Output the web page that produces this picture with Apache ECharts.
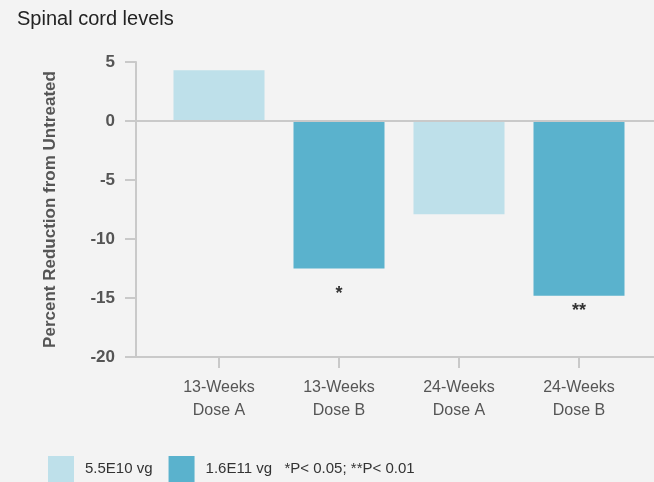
<!DOCTYPE html>
<html>
<head>
<meta charset="utf-8">
<script src="https://cdn.jsdelivr.net/npm/echarts@6/dist/echarts.min.js"></script>
<style>
  html, body { margin: 0; padding: 0; background: #f3f3f3; }
  #chart { width: 654px; height: 482px; }
</style>
</head>
<body>
<div id="chart"></div>
<script>
  // categories on the x axis
  var categories = ['13-Weeks\nDose A', '13-Weeks\nDose B', '24-Weeks\nDose A', '24-Weeks\nDose B'];
  // percent reduction, one array per dose (null where the other dose is drawn)
  var lowDose = [4.3, null, -7.9, null];
  var highDose = [null, -12.5, null, -14.8];
  // significance marks under the bars
  var marks = ['', '*', '', '**'];
  var seriesNames = ['5.5E10 vg', '1.6E11 vg'];
  var pNote = '*P< 0.05; **P< 0.01';
  var yMin = -20, yMax = 5, yStep = 5;

  var lightBlue = '#bee0ea';
  var darkBlue = '#5ab2cd';
  var axisGray = '#c9c9c9';
  var font = '"Liberation Sans", Arial, sans-serif';

  // distance of the mark below each bar end
  var markGap = [0, 17, 0, 6];

  var chart = echarts.init(document.getElementById('chart'));

  chart.setOption({
    backgroundColor: '#f3f3f3',
    animation: false,
    title: {
      text: 'Spinal cord levels',
      left: 17,
      top: 9,
      padding: 0,
      textStyle: { fontFamily: font, fontSize: 20, fontWeight: 'normal', color: '#222' }
    },
    legend: {
      left: 48,
      top: 456,
      padding: 0,
      itemWidth: 26,
      itemHeight: 26,
      itemGap: 16,
      icon: 'rect',
      data: seriesNames,
      formatter: function (name) {
        return name === seriesNames[1] ? name + '   ' + pNote : name;
      },
      textStyle: { fontFamily: font, fontSize: 15, color: '#333', padding: [0, 0, 0, 6] }
    },
    grid: [
      // axes frame
      { left: 136, right: 0, top: 62, bottom: 125 },
      // bars
      { left: 159, right: 15, top: 62, bottom: 125 }
    ],
    xAxis: [
      {
        gridIndex: 0,
        type: 'value',
        min: 0,
        max: 1,
        axisLine: { show: true, onZero: false, lineStyle: { color: axisGray, width: 2 } },
        axisTick: { show: false },
        axisLabel: { show: false },
        splitLine: { show: false }
      },
      {
        gridIndex: 1,
        type: 'category',
        data: categories,
        axisLine: { show: false, onZero: false },
        axisTick: { show: true, alignWithLabel: true, interval: 0, length: 11, lineStyle: { color: axisGray, width: 2 } },
        axisLabel: { interval: 0, margin: 19, lineHeight: 23, fontFamily: font, fontSize: 16, color: '#555' }
      }
    ],
    yAxis: [
      {
        gridIndex: 0,
        type: 'value',
        min: yMin,
        max: yMax,
        interval: yStep,
        name: 'Percent Reduction from Untreated',
        nameLocation: 'middle',
        nameGap: 77,
        nameTextStyle: { fontFamily: font, fontSize: 17, fontWeight: 'bold', color: '#555' },
        axisLine: { show: true, lineStyle: { color: axisGray, width: 2 } },
        axisTick: { show: true, length: 11, lineStyle: { color: axisGray, width: 2 } },
        axisLabel: { margin: 21, fontFamily: font, fontSize: 17, fontWeight: 'bold', color: '#555' },
        splitLine: { show: false }
      },
      {
        gridIndex: 1,
        type: 'value',
        min: yMin,
        max: yMax,
        interval: yStep,
        show: false
      }
    ],
    series: [
      {
        // zero line across the frame
        type: 'line',
        xAxisIndex: 0,
        yAxisIndex: 0,
        data: [],
        silent: true,
        markLine: {
          silent: true,
          symbol: 'none',
          label: { show: false },
          lineStyle: { color: axisGray, width: 2, type: 'solid' },
          data: [{ yAxis: 0 }]
        }
      },
      {
        name: seriesNames[0],
        type: 'bar',
        xAxisIndex: 1,
        yAxisIndex: 1,
        barWidth: 91,
        barGap: '-100%',
        z: 3,
        itemStyle: { color: lightBlue },
        data: lowDose
      },
      {
        name: seriesNames[1],
        type: 'bar',
        xAxisIndex: 1,
        yAxisIndex: 1,
        barWidth: 91,
        barGap: '-100%',
        z: 3,
        itemStyle: { color: darkBlue },
        data: highDose.map(function (v, i) {
          return {
            value: v,
            label: {
              show: marks[i] !== '',
              position: 'outside',
              distance: markGap[i],
              formatter: marks[i],
              fontFamily: font,
              fontSize: 18,
              fontWeight: 'bold',
              color: '#333'
            }
          };
        })
      }
    ]
  });
</script>
</body>
</html>
